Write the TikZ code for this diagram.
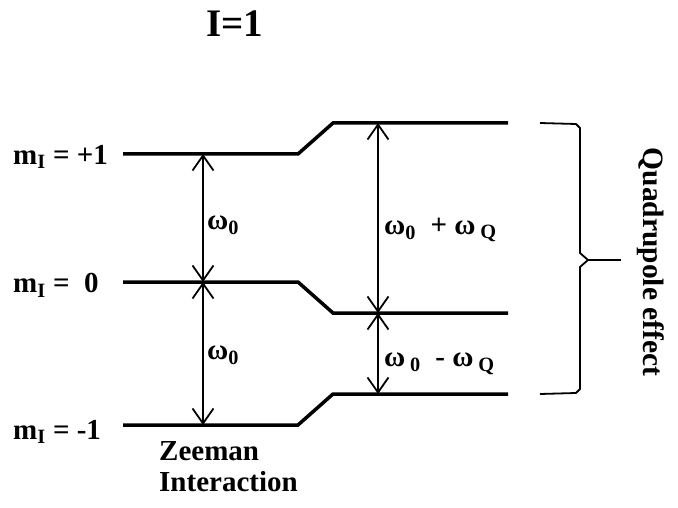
\documentclass[tikz,border=0pt]{standalone}
\usepackage{fontspec}
\setmainfont{Liberation Serif}
\usetikzlibrary{arrows.meta}

\begin{document}
\begin{tikzpicture}[x=1pt,y=-1pt,
    level/.style={line width=3.5pt},
    barb/.tip={Straight Barb[length=15pt,width=21pt,line width=1.8pt]},
    gap/.style={line width=1.3pt,{barb}-{barb}},
    lbl/.style={font=\fontsize{29}{31}\selectfont\bfseries,inner sep=0pt}]
    \useasboundingbox (0,0) rectangle (678,508);

    \node[font=\fontsize{39}{41}\selectfont\bfseries] (title) at (235,24) {I=1};

    % energy levels
    \coordinate (p1) at (123,154); \coordinate (p2) at (298,154);
    \coordinate (p3) at (333,123); \coordinate (p4) at (508,123);
    \coordinate (z1) at (123,282); \coordinate (z2) at (298,282);
    \coordinate (z3) at (333,313); \coordinate (z4) at (508,313);
    \coordinate (n1) at (123,425); \coordinate (n2) at (298,425);
    \coordinate (n3) at (333,394); \coordinate (n4) at (508,394);
    \draw[level] (p1) -- (p2) -- (p3) -- (p4);
    \draw[level] (z1) -- (z2) -- (z3) -- (z4);
    \draw[level] (n1) -- (n2) -- (n3) -- (n4);

    \node[lbl,anchor=west] (mp) at (13,157) {m\textsubscript{I} = +1};
    \node[lbl,anchor=west] (mz) at (13,285) {m\textsubscript{I} =~ 0};
    \node[lbl,anchor=west] (mm) at (13,432) {m\textsubscript{I} = -1};

    % Zeeman splitting
    \coordinate (zt) at (203,154); \coordinate (zm) at (203,282);
    \coordinate (zb) at (203,425);
    \draw[gap] (zt) -- (zm);
    \draw[gap] (zm) -- (zb);
    \node[lbl,anchor=west] (w1) at (207,225) {ω\textsubscript{0}};
    \node[lbl,anchor=west] (w2) at (207,355) {ω\textsubscript{0}};

    % quadrupole splitting
    \coordinate (qt) at (378,123); \coordinate (qm) at (378,313);
    \coordinate (qb) at (378,394);
    \draw[gap] (qt) -- (qm);
    \draw[gap] (qm) -- (qb);
    \node[lbl,anchor=west] (wp) at (384,230) {ω\textsubscript{0} ~+ ω\,\textsubscript{Q}};
    \node[lbl,anchor=west] (wm) at (384,364) {ω\,\textsubscript{0} ~- ω\,\textsubscript{Q}};

    \node[lbl,anchor=north west,align=left] (zee) at (159,441) {Zeeman\\Interaction};

    % brace
    \coordinate (bt) at (540,123); \coordinate (bb) at (540,394);
    \coordinate (tip) at (621,260);
    \draw[line width=1.8pt,line join=round]
        (bt) -- (576,124) -- (580,128) -- (580,253) -- (588,260) -- (580,267)
        -- (580,389) -- (576,393) -- (bb);
    \draw[line width=1.8pt] (588,260) -- (tip);
    \node[lbl,font=\fontsize{29.5}{31}\selectfont\bfseries,rotate=-90] (quad) at (651,262) {Quadrupole effect};
\end{tikzpicture}
\end{document}
